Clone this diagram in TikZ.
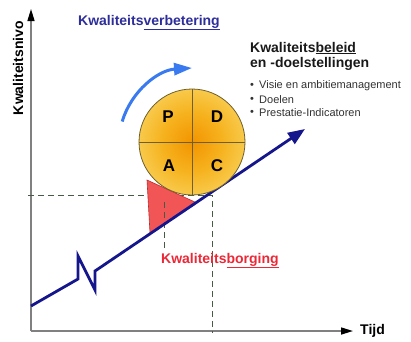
\documentclass[tikz,border=0pt]{standalone}
\usepackage{fontspec}
\setmainfont{Liberation Sans}
\usetikzlibrary{arrows.meta}
\definecolor{navyline}{RGB}{22,22,140}
\definecolor{titleblue}{RGB}{45,45,155}
\definecolor{titlered}{RGB}{236,40,55}
\definecolor{arcblue}{RGB}{58,122,240}
\definecolor{dashgreen}{RGB}{70,90,70}
\definecolor{trifill}{RGB}{242,85,85}
\definecolor{triedge}{RGB}{190,45,45}
\definecolor{pdcaA}{RGB}{242,148,0}
\definecolor{pdcaB}{RGB}{246,178,30}
\definecolor{pdcaC}{RGB}{249,212,95}
\definecolor{pdcaD}{RGB}{251,232,145}
\definecolor{pdcaEdge}{RGB}{110,95,45}
\definecolor{bodygray}{RGB}{50,50,50}
\definecolor{axisgray}{RGB}{128,128,128}
\definecolor{headblack}{RGB}{25,25,25}
\pgfdeclareradialshading{pdcashade}{\pgfpointorigin}{color(0bp)=(pdcaA); color(14bp)=(pdcaB); color(30bp)=(pdcaC); color(45bp)=(pdcaD); color(50bp)=(pdcaD)}
\tikzset{
  axisline/.style={draw=axisgray, line width=1.5pt, -{Triangle[length=12pt,width=7pt,color=black]}},
  guide/.style={draw=dashgreen, line width=1pt, dash pattern=on 6pt off 4pt},
  titletext/.style={font=\fontsize{14}{16}\selectfont\bfseries, inner sep=0pt},
  bullettext/.style={font=\fontsize{11}{13}\selectfont, text=bodygray, inner sep=0pt, anchor=west},
  letter/.style={font=\fontsize{17}{19}\selectfont\bfseries, inner sep=0pt},
}
\begin{document}
\begin{tikzpicture}[x=1pt,y=-1pt]
\useasboundingbox (0,0) rectangle (411,341);
\fill[white] (0,0) rectangle (411,341);

% axes
\coordinate (origin) at (31,331);
\coordinate (ytip) at (31,9);
\coordinate (xtip) at (353,331);
\draw[axisline] (origin) -- (ytip);
\draw[axisline] (origin) -- (xtip);
\node[titletext, rotate=90] (ylabel) at (18,68) {Kwaliteitsnivo};
\node[titletext, anchor=west] (xlabel) at (360,331) {Tijd};

% guide lines
\coordinate (h1) at (28,195);
\coordinate (h2) at (212,195);
\coordinate (v1) at (212,333);
\draw[guide] (h1) -- (h2) -- (v1);

% red triangle
\coordinate (t1) at (147,180);
\coordinate (t2) at (150,233);
\coordinate (t3) at (197,203);
\filldraw[fill=trifill, draw=triedge, line width=0.6pt] (t1) -- (t2) -- (t3) -- cycle;

\coordinate (g1) at (164,202);
\coordinate (g2) at (164,248);
\draw[guide] (g1) -- (g2);

% main line with break
\coordinate (m0) at (31,306);
\coordinate (m1) at (78,279);
\coordinate (m2) at (78,256);
\coordinate (m3) at (95,290);
\coordinate (m4) at (95,271);
\coordinate (m5) at (305,129);
\draw[navyline, line width=2.8pt, line join=miter, -{Triangle[length=17pt,width=13pt]}]
  (m0) -- (m1) -- (m2) -- (m3) -- (m4) -- (m5);

% PDCA circle
\coordinate (c) at (192,142);
\shade[shading=pdcashade] (c) circle[radius=53pt];
\draw[pdcaEdge, line width=0.8pt] (c) circle[radius=53pt];
\draw[pdcaEdge, line width=0.8pt] (139,142) -- (245,142);
\draw[pdcaEdge, line width=0.8pt] (192,89) -- (192,195);
\node[letter] (P) at (168,117) {P};
\node[letter] (D) at (217,117) {D};
\node[letter] (A) at (169,166) {A};
\node[letter] (C) at (217,166) {C};

% curved blue arrow
\coordinate (a0) at (122.2,121.5);
\coordinate (a3) at (192,68);
\draw[arcblue, line width=3pt, -{Triangle[length=18pt,width=12pt]}]
  (a0) .. controls (131.3,90.9) and (158.3,70.1) .. (a3);

% texts
\node[titletext, text=titleblue, anchor=base west] (verb) at (78,25) {Kwaliteits\underline{verbetering}};
\node[titletext, text=titlered, anchor=base west] (borg) at (161,263) {Kwaliteits\underline{borging}};
\node[titletext, text=headblack, anchor=base west] (bel1) at (250,52) {Kwaliteits\underline{beleid}};
\node[titletext, text=headblack, anchor=base west] (bel2) at (250,67) {en -doelstellingen};

\node[bullettext] (b1d) at (250,86) {•};
\node[bullettext] (b1) at (259,86) {Visie en ambitiemanagement};
\node[bullettext] (b2d) at (250,100) {•};
\node[bullettext] (b2) at (259,100) {Doelen};
\node[bullettext] (b3d) at (250,113) {•};
\node[bullettext] (b3) at (259,113) {Prestatie-Indicatoren};
\end{tikzpicture}
\end{document}
